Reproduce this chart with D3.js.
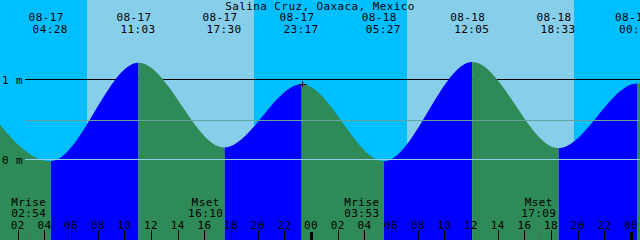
<!DOCTYPE html>
<html>
<head>
<meta charset="utf-8">
<script src="https://cdn.jsdelivr.net/npm/d3@7"></script>
<style>
body { margin: 0; background: #fff; }
svg { display: block; }
text { font-family: "DejaVu Sans Mono", monospace; font-size: 11px; letter-spacing: 0.4px; fill: #000; }
</style>
</head>
<body>
<div id="chart"></div>
<script>
// chart text and data
var title = "Salina Cruz, Oaxaca, Mexico";
var view_start = "08-17 00:40", view_hours = 48;

// high / low tides (first and last are just outside the view, they shape the curve ends)
var tide_times = ["08-16 22:27", "08-17 04:28", "08-17 11:03", "08-17 17:30", "08-17 23:17",
                  "08-18 05:27", "08-18 12:05", "08-18 18:33", "08-19 00:27", "08-19 06:25"];
var tide_heights = [0.95, -0.02, 1.21, 0.15, 0.94, -0.02, 1.22, 0.14, 0.95, -0.02];
var marked_event = "08-17 23:17";

var sun_rise = ["08-17 07:10", "08-18 07:10"];
var sun_set = ["08-17 19:43", "08-18 19:43"];

var moon_names = ["Mrise", "Mset", "Mrise", "Mset"];
var moon_times = ["08-17 02:54", "08-17 16:10", "08-18 03:53", "08-18 17:09"];

var level_ticks = [0, 1];
var mean_level = 0.49;

// magic numbers
var width = 640, height = 240;
var col = {night: "#00bfff", day: "#87ceeb", fall: "#2e8b57", rise: "#0000ff",
           zero: "#8fd0e8", mean: "#66a3a3", moon: "#4f6f5f"};

var parse = d3.utcParse("%Y-%m-%d %H:%M");
function T(s) { return parse("2024-" + s); }

var t0 = T(view_start);
var xScale = d3.scaleUtc()
    .domain([t0, d3.utcHour.offset(t0, view_hours)])
    .range([0, width]);
var yScale = d3.scaleLinear()
    .domain([0, 1])
    .range([159.5, 79.5]);

var tides = tide_times.map(function(s, i) { return {t: T(s), h: tide_heights[i], label: s}; });

var svg = d3.select("#chart").append("svg")
    .attr("width", width)
    .attr("height", height);

// sky: night then day bands
svg.append("rect")
    .attr("width", width).attr("height", height)
    .attr("fill", col.night);
svg.selectAll("rect.day")
    .data(sun_rise)
  .enter().append("rect")
    .attr("class", "day")
    .attr("x", function(d) { return xScale(T(d)); })
    .attr("width", function(d, i) { return xScale(T(sun_set[i])) - xScale(T(d)); })
    .attr("y", 0).attr("height", height)
    .attr("fill", col.day)
    .attr("shape-rendering", "crispEdges");

// 1 m line sits behind the water
svg.append("line")
    .attr("x1", 25).attr("x2", width)
    .attr("y1", yScale(1)).attr("y2", yScale(1))
    .style("stroke", "#000");

// water, split into rising and falling parts
var segs = d3.pairs(tides);
var defs = svg.append("defs");
["rise", "fall"].forEach(function(kind) {
    defs.append("clipPath").attr("id", "clip-" + kind)
      .selectAll("rect")
        .data(segs.filter(function(p) { return (p[1].h > p[0].h) === (kind == "rise"); }))
      .enter().append("rect")
        .attr("x", function(p) { return xScale(p[0].t); })
        .attr("width", function(p) { return xScale(p[1].t) - xScale(p[0].t); })
        .attr("y", 0).attr("height", height);
});

var area = d3.area()
    .x(function(d) { return xScale(d.t); })
    .y0(height)
    .y1(function(d) { return yScale(d.h); })
    .curve(d3.curveMonotoneX);

["rise", "fall"].forEach(function(kind) {
    svg.append("path")
        .datum(tides)
        .attr("d", area)
        .attr("fill", col[kind])
        .attr("clip-path", "url(#clip-" + kind + ")");
});

// 0 m and mean lines over the water
svg.append("line")
    .attr("x1", 25).attr("x2", width)
    .attr("y1", yScale(0)).attr("y2", yScale(0))
    .style("stroke", col.zero);
svg.append("line")
    .attr("x1", 25).attr("x2", width)
    .attr("y1", Math.round(yScale(mean_level)) + 0.5).attr("y2", Math.round(yScale(mean_level)) + 0.5)
    .style("stroke", col.mean);

svg.selectAll("text.level")
    .data(level_ticks)
  .enter().append("text")
    .attr("class", "level")
    .attr("x", 2)
    .attr("y", function(d) { return yScale(d) + 4; })
    .text(function(d) { return d + " m"; });

// small cross on one high tide
var mk = tides.filter(function(d) { return d.label == marked_event; })[0];
var mx = Math.round(xScale(mk.t)) + 0.5, my = Math.round(yScale(mk.h)) + 0.5;
svg.append("path")
    .attr("d", "M" + (mx - 4) + "," + my + "H" + (mx + 4) + "M" + mx + "," + (my - 3) + "V" + (my + 2))
    .style("stroke", "#000").style("fill", "none");

// title and tide times on top
svg.append("text")
    .attr("x", width / 2).attr("y", 10)
    .attr("text-anchor", "middle")
    .text(title);

var shown = tides.filter(function(d) { return xScale(d.t) > -10 && xScale(d.t) < width + 10; });
var top_g = svg.selectAll("g.event")
    .data(shown)
  .enter().append("g")
    .attr("class", "event")
    .attr("transform", function(d) { return "translate(" + xScale(d.t) + ",0)"; });
top_g.append("text")
    .attr("x", -4.5).attr("y", 21)
    .attr("text-anchor", "middle")
    .text(function(d) { return d3.utcFormat("%m-%d")(d.t); });
top_g.append("text")
    .attr("x", -0.5).attr("y", 33)
    .attr("text-anchor", "middle")
    .text(function(d) { return d3.utcFormat("%H:%M")(d.t); });

// moon rise / set
var moon_g = svg.selectAll("g.moon")
    .data(moon_times)
  .enter().append("g")
    .attr("class", "moon")
    .attr("transform", function(d) { return "translate(" + xScale(T(d)) + ",0)"; });
moon_g.append("line")
    .attr("x1", 0).attr("x2", 0)
    .attr("y1", 230).attr("y2", height)
    .style("stroke", col.moon);
moon_g.append("text")
    .attr("x", -1).attr("y", 206)
    .attr("text-anchor", "middle")
    .text(function(d, i) { return moon_names[i]; });
moon_g.append("text")
    .attr("x", -1).attr("y", 217)
    .attr("text-anchor", "middle")
    .text(function(d) { return d3.utcFormat("%H:%M")(T(d)); });

// hour axis along the bottom
var hours = xScale.ticks(d3.utcHour.every(2));
svg.selectAll("text.hour")
    .data(hours)
  .enter().append("text")
    .attr("class", "hour")
    .attr("x", function(d) { return xScale(d); })
    .attr("y", 229)
    .attr("text-anchor", "middle")
    .text(d3.utcFormat("%H"));
svg.selectAll("rect.tick")
    .data(hours)
  .enter().append("rect")
    .attr("class", "tick")
    .attr("x", function(d) { return Math.round(xScale(d)) - (d.getUTCHours() == 0 ? 1 : 0); })
    .attr("width", function(d) { return d.getUTCHours() == 0 ? 3 : 1; })
    .attr("y", function(d) { return d.getUTCHours() == 0 ? 232 : 230; })
    .attr("height", function(d) { return d.getUTCHours() == 0 ? 8 : 10; })
    .attr("fill", "#000")
    .attr("shape-rendering", "crispEdges");
</script>
</body>
</html>
